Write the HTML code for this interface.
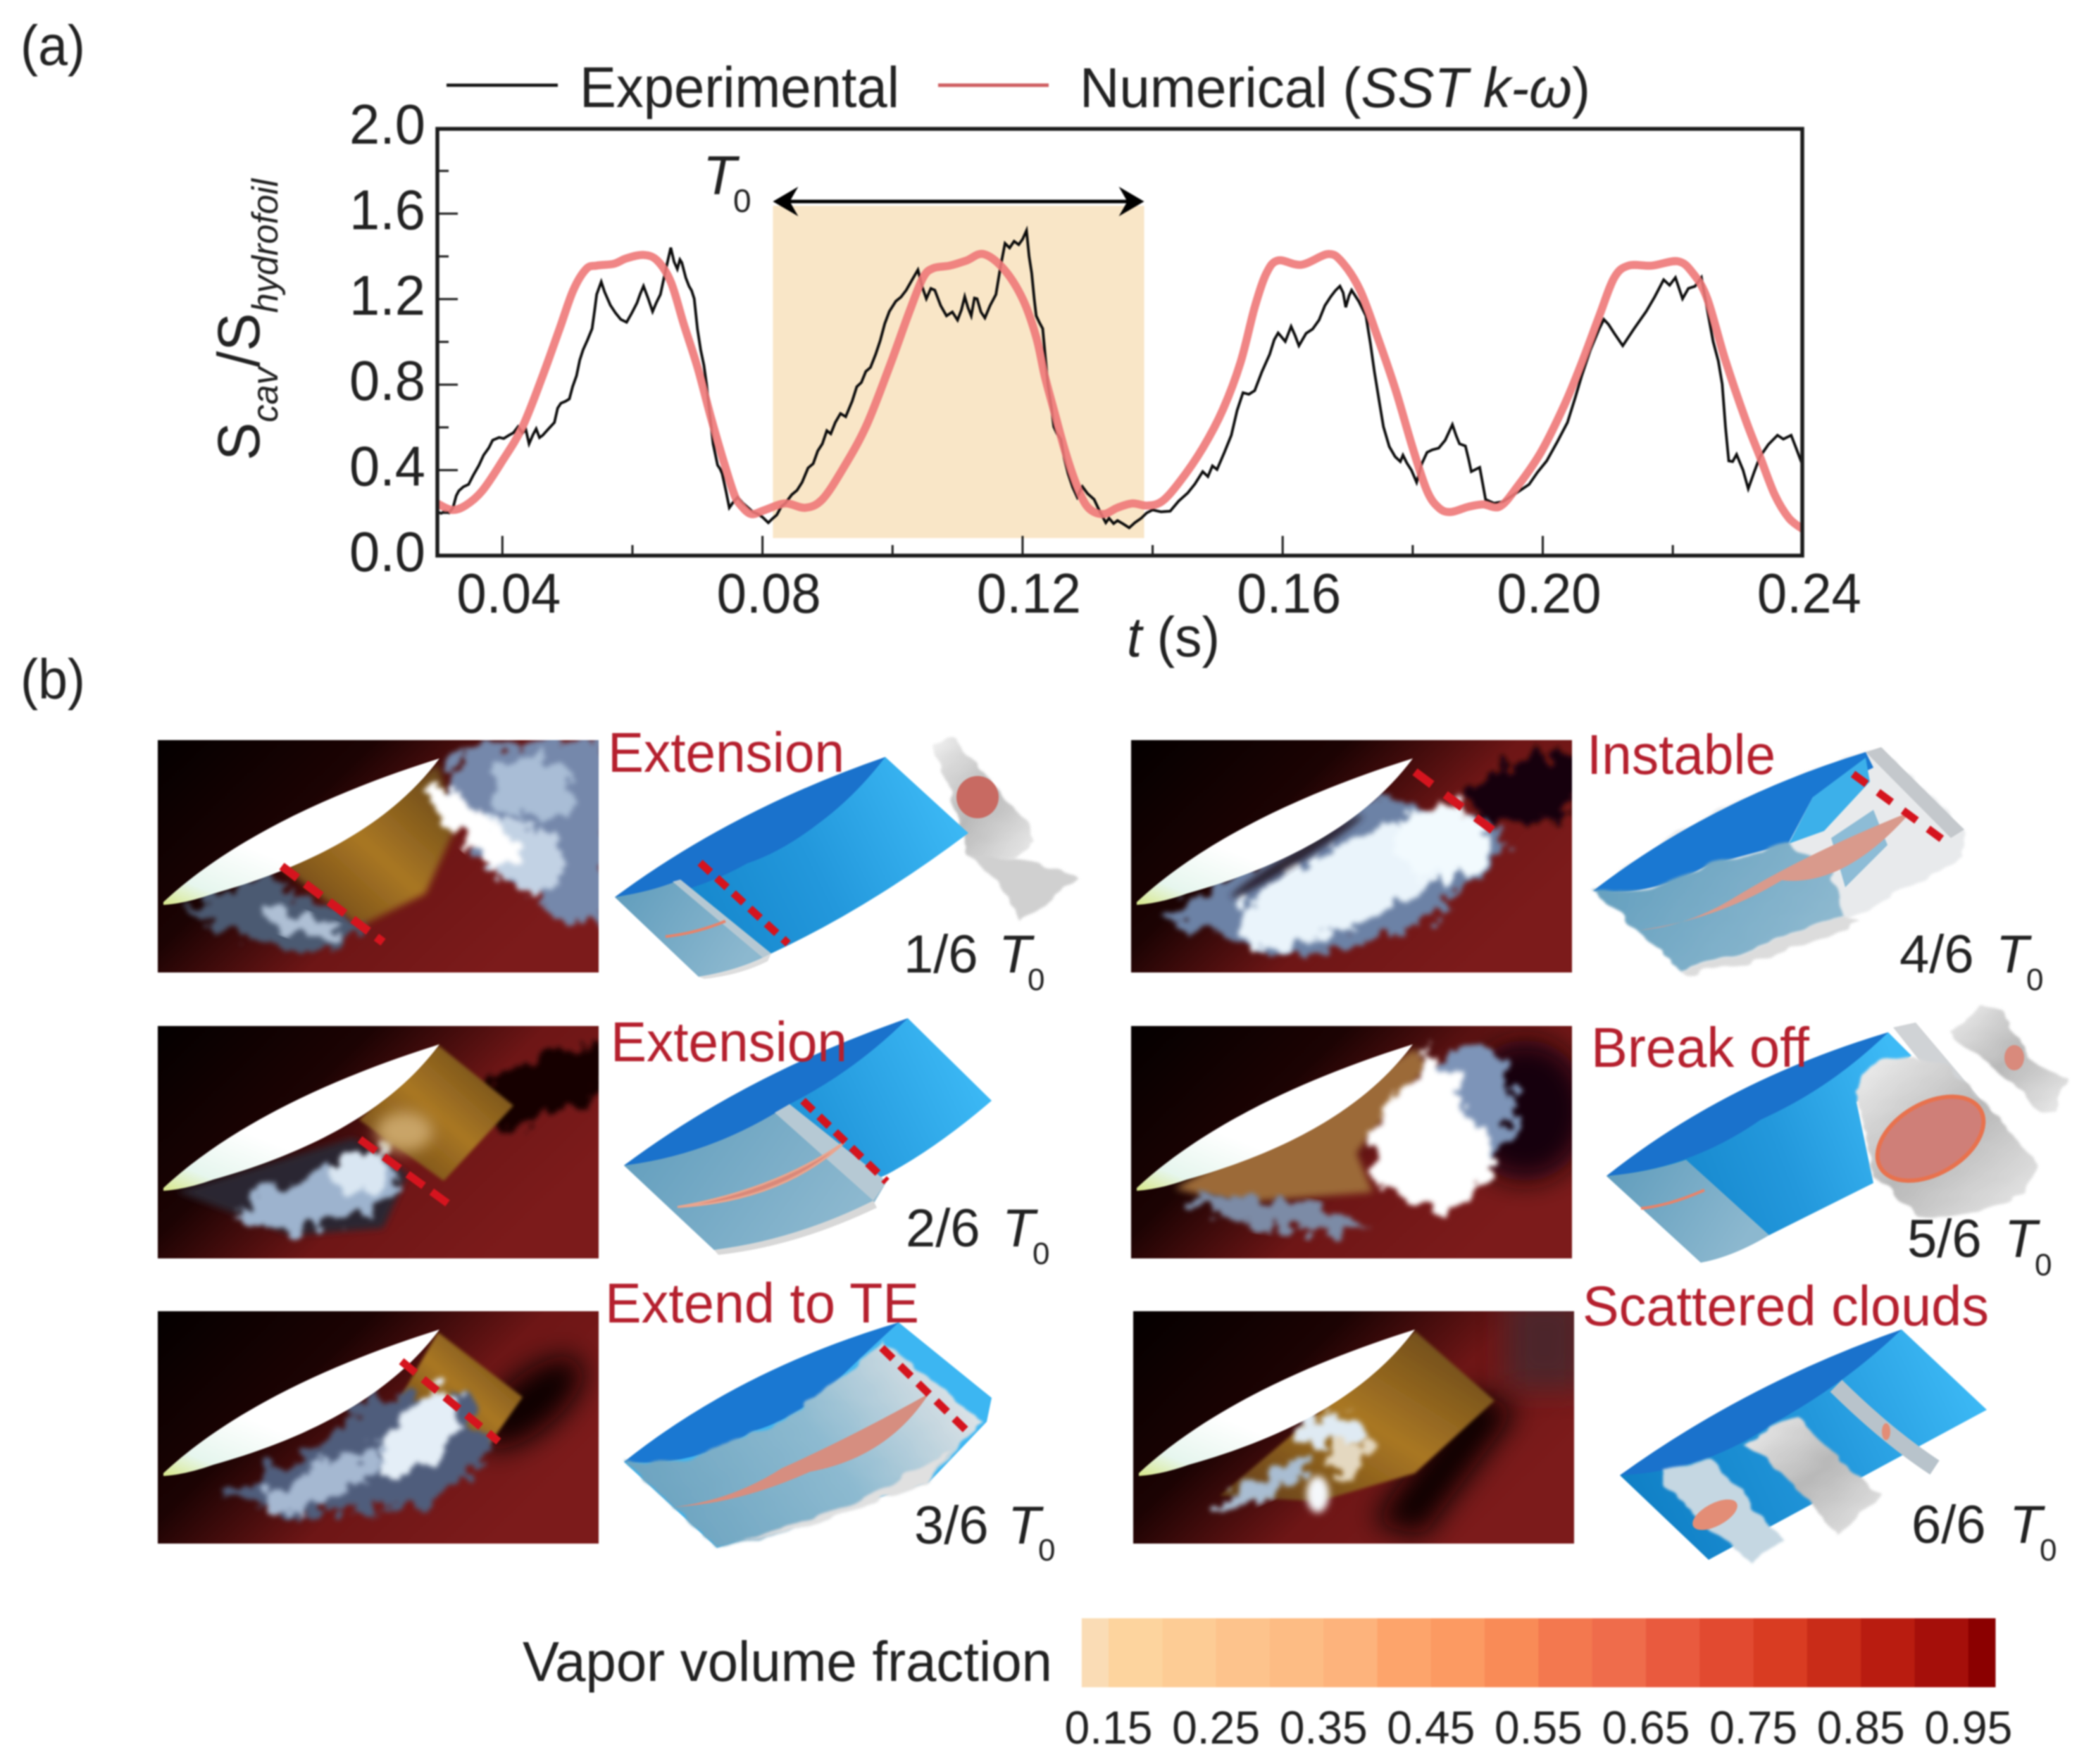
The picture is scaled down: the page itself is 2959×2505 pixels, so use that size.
<!DOCTYPE html>
<html lang="en">
<head>
<meta charset="utf-8">
<title>Cavity area oscillation and vapor volume fraction</title>
<style>
html,body{margin:0;padding:0;background:#fff;width:2959px;height:2505px;overflow:hidden}
svg{display:block;filter:blur(1px)}
text{font-family:"Liberation Sans",sans-serif;fill:#222}
.red{fill:#b5202e;font-size:80px}
.it{font-style:italic}
</style>
</head>
<body>
<svg id="fig" xmlns="http://www.w3.org/2000/svg" width="2959" height="2505" viewBox="0 0 2959 2505">
<defs>
  <filter id="b2" x="-30%" y="-30%" width="160%" height="160%"><feGaussianBlur stdDeviation="2"/></filter>
  <filter id="b5" x="-50%" y="-50%" width="200%" height="200%"><feGaussianBlur stdDeviation="5"/></filter>
  <filter id="b10" x="-60%" y="-60%" width="220%" height="220%"><feGaussianBlur stdDeviation="10"/></filter>
  <filter id="b20" x="-80%" y="-80%" width="260%" height="260%"><feGaussianBlur stdDeviation="20"/></filter>
  <filter id="cloud" x="-30%" y="-30%" width="160%" height="160%">
    <feTurbulence type="fractalNoise" baseFrequency="0.035" numOctaves="4" seed="7" result="n"/>
    <feDisplacementMap in="SourceGraphic" in2="n" scale="55" xChannelSelector="R" yChannelSelector="G"/>
    <feGaussianBlur stdDeviation="3.5"/>
  </filter>
  <filter id="wavy" x="-15%" y="-15%" width="130%" height="130%">
    <feTurbulence type="fractalNoise" baseFrequency="0.022 0.05" numOctaves="2" seed="3" result="n"/>
    <feDisplacementMap in="SourceGraphic" in2="n" scale="16" xChannelSelector="R" yChannelSelector="G"/>
    <feGaussianBlur stdDeviation="1.5"/>
  </filter>
  <clipPath id="pc"><rect x="0" y="0" width="626" height="330"/></clipPath>
  <clipPath id="plot-clip"><rect x="621" y="182" width="1938" height="607"/></clipPath>
  <linearGradient id="pbg" x1="0" y1="0" x2="1" y2="0.55">
    <stop offset="0" stop-color="#040000"/><stop offset="0.38" stop-color="#1c0303"/>
    <stop offset="0.68" stop-color="#6e1616"/><stop offset="1" stop-color="#7c1b1b"/>
  </linearGradient>
  <linearGradient id="brown" x1="0" y1="1" x2="1" y2="0">
    <stop offset="0" stop-color="#5e3a18"/><stop offset="0.5" stop-color="#a97722"/><stop offset="1" stop-color="#5f401a"/>
  </linearGradient>
  <linearGradient id="lensfill" x1="0" y1="1" x2="0.3" y2="0.6">
    <stop offset="0" stop-color="#d8e88a"/><stop offset="0.35" stop-color="#e6f6ee"/><stop offset="1" stop-color="#ffffff"/>
  </linearGradient>
  <linearGradient id="foil" x1="0" y1="0.6" x2="1" y2="0.3">
    <stop offset="0" stop-color="#1080c6"/><stop offset="0.55" stop-color="#2398dc"/><stop offset="1" stop-color="#3dbaf6"/>
  </linearGradient>
  <linearGradient id="cav" x1="0" y1="0" x2="1" y2="0.4">
    <stop offset="0" stop-color="#5f9cbc"/><stop offset="1" stop-color="#8cb8cf"/>
  </linearGradient>
  <linearGradient id="mist" x1="0" y1="0.7" x2="1" y2="0.3">
    <stop offset="0" stop-color="#6aa2bf"/><stop offset="0.55" stop-color="#8dbad0"/><stop offset="1" stop-color="#e3e6e8"/>
  </linearGradient>
  <linearGradient id="gray3d" x1="0" y1="0" x2="1" y2="1">
    <stop offset="0" stop-color="#f0f0f0"/><stop offset="0.5" stop-color="#b8b8b8"/><stop offset="1" stop-color="#ececec"/>
  </linearGradient>
  <path id="lens" d="M8,230 C110,135 260,70 400,26 C345,100 250,170 79,218 Q40,232 8,234 Z" fill="url(#lensfill)"/>
</defs>

<text x="29" y="92" font-size="80" fill="#333" textLength="92" lengthAdjust="spacingAndGlyphs">(a)</text>
<text x="29" y="992" font-size="80" fill="#333" textLength="92" lengthAdjust="spacingAndGlyphs">(b)</text>

<!-- Legend -->
<g>
  <line x1="634" y1="121" x2="792" y2="121" stroke="#111" stroke-width="4.5"/>
  <text x="823" y="152" font-size="82" textLength="454" lengthAdjust="spacingAndGlyphs">Experimental</text>
  <line x1="1332" y1="121" x2="1489" y2="121" stroke="#cf5f62" stroke-width="5"/>
  <text x="1533" y="152" font-size="80" textLength="725" lengthAdjust="spacingAndGlyphs">Numerical (<tspan class="it">SST k-ω</tspan>)</text>
</g>

<!-- Chart -->
<g id="chart"></g>

<text transform="translate(368,654) rotate(-90)" font-size="84" textLength="400" lengthAdjust="spacingAndGlyphs">S<tspan class="it" font-size="52" dy="26">cav</tspan><tspan dy="-26">/S</tspan><tspan class="it" font-size="52" dy="26">hydrofoil</tspan></text>
<text x="1600" y="932" font-size="80" textLength="132" lengthAdjust="spacingAndGlyphs"><tspan class="it">t</tspan> (s)</text>
<g>
  <text x="998" y="276" font-size="78" class="it">T</text>
  <text x="1041" y="301" font-size="46">0</text>
</g>

<!-- PHOTOS -->
<g transform="translate(224,1051)" clip-path="url(#pc)">
  <rect width="626" height="330" fill="url(#pbg)"/>
  <path d="M174,178 L398,35 L424,122 L380,218 L286,265 Z" fill="url(#brown)" filter="url(#b5)"/>
  <path d="M40,240 L150,190 L290,270 L240,300 L110,280 Z" fill="#4c5a72" filter="url(#cloud)"/>
  <ellipse cx="200" cy="262" rx="60" ry="15" transform="rotate(20 200 262)" fill="#aebfd4" filter="url(#cloud)"/>
  <path d="M430,15 L640,-10 L640,270 L570,250 L470,170 L405,80 Z" fill="#7488ab" filter="url(#cloud)"/>
  <ellipse cx="530" cy="70" rx="60" ry="45" fill="#a9bdd6" filter="url(#cloud)"/>
  <ellipse cx="520" cy="165" rx="65" ry="45" transform="rotate(45 520 165)" fill="#c2d2e4" filter="url(#cloud)"/>
  <ellipse cx="448" cy="122" rx="82" ry="24" transform="rotate(42 448 122)" fill="#fff" filter="url(#cloud)"/>
  <use href="#lens"/>
  <line x1="176" y1="179" x2="320" y2="287" stroke="#d5141e" stroke-width="12" stroke-dasharray="28 14"/>
</g>
<g transform="translate(224,1457)" clip-path="url(#pc)">
  <rect width="626" height="330" fill="url(#pbg)"/>
  <ellipse cx="550" cy="85" rx="100" ry="42" transform="rotate(-25 550 85)" fill="#140505" filter="url(#cloud)"/>
  <path d="M398,27 L505,113 L406,220 L286,133 Z" fill="url(#brown)" filter="url(#b2)"/>
  <path d="M27,235 L277,159 L355,210 L320,287 L190,297 Z" fill="#2c2532" filter="url(#b5)"/>
  <ellipse cx="235" cy="245" rx="120" ry="38" transform="rotate(-12 235 245)" fill="#9db3ce" filter="url(#cloud)"/>
  <ellipse cx="290" cy="205" rx="48" ry="30" transform="rotate(-30 290 205)" fill="#d9e6f2" filter="url(#cloud)"/>
  <ellipse cx="350" cy="150" rx="40" ry="28" fill="#c9a468" filter="url(#b10)"/>
  <use href="#lens"/>
  <line x1="287" y1="161" x2="416" y2="255" stroke="#d5141e" stroke-width="11" stroke-dasharray="28 14"/>
</g>
<g transform="translate(224,1862)" clip-path="url(#pc)">
  <rect width="626" height="330" fill="url(#pbg)"/>
  <ellipse cx="530" cy="130" rx="90" ry="40" transform="rotate(-40 530 130)" fill="#100303" filter="url(#b20)"/>
  <path d="M398,30 L518,122 L470,190 L340,130 Z" fill="url(#brown)" filter="url(#b2)"/>
  <path d="M88,260 L237,185 L300,120 L447,120 L470,210 L380,280 L200,290 Z" fill="#4f5d7c" filter="url(#cloud)"/>
  <ellipse cx="375" cy="170" rx="80" ry="38" transform="rotate(-45 375 170)" fill="#e4eef7" filter="url(#cloud)"/>
  <ellipse cx="240" cy="240" rx="100" ry="26" transform="rotate(-24 240 240)" fill="#a5b8d1" filter="url(#cloud)"/>
  <use href="#lens"/>
  <line x1="346" y1="71" x2="484" y2="185" stroke="#d5141e" stroke-width="11" stroke-dasharray="26 14"/>
</g>
<g transform="translate(1606,1051)" clip-path="url(#pc)">
  <rect width="626" height="330" fill="url(#pbg)"/>
  <ellipse cx="570" cy="70" rx="95" ry="45" transform="rotate(-20 570 70)" fill="#14060a" filter="url(#cloud)"/>
  <path d="M44,249 L352,80 L501,116 L536,147 L413,264 L237,310 L88,268 Z" fill="#6c82a6" filter="url(#cloud)"/>
  <ellipse cx="310" cy="205" rx="170" ry="60" transform="rotate(-24 310 205)" fill="#eaf4fb" filter="url(#cloud)"/>
  <ellipse cx="440" cy="145" rx="65" ry="55" fill="#f2fafe" filter="url(#cloud)"/>
  <ellipse cx="235" cy="165" rx="110" ry="9" transform="rotate(-32 235 165)" fill="#2a2230" filter="url(#b5)"/>
  <use href="#lens"/>
  <line x1="403" y1="45" x2="532" y2="142" stroke="#d5141e" stroke-width="12" stroke-dasharray="30 24"/>
</g>
<g transform="translate(1606,1457)" clip-path="url(#pc)">
  <rect width="626" height="330" fill="url(#pbg)"/>
  <ellipse cx="560" cy="120" rx="90" ry="100" fill="#14060a" filter="url(#b20)"/>
  <path d="M403,32 L422,57 L320,180 L343,236 L150,251 L62,231 Z" fill="#9c6a38" filter="url(#b5)"/>
  <ellipse cx="205" cy="268" rx="130" ry="20" transform="rotate(10 205 268)" fill="#7c8ba6" filter="url(#cloud)"/>
  <ellipse cx="480" cy="110" rx="65" ry="85" fill="#7d94b8" filter="url(#cloud)"/>
  <path d="M430,35 L470,100 L520,190 L470,260 L390,250 L340,210 L350,130 Z" fill="#fff" filter="url(#cloud)"/>
  <use href="#lens"/>
</g>
<g transform="translate(1609,1862)" clip-path="url(#pc)">
  <rect width="626" height="330" fill="url(#pbg)"/>
  <rect x="530" y="-20" width="110" height="130" fill="#3f2a30" opacity="0.75" filter="url(#b20)"/>
  <path d="M480,110 L545,140 L410,320 L340,300 Z" fill="#100303" filter="url(#b20)"/>
  <path d="M400,28 L513,127 L400,230 L263,270 L123,262 Z" fill="url(#brown)" filter="url(#b2)"/>
  <ellipse cx="280" cy="170" rx="48" ry="26" fill="#dfeaf3" filter="url(#cloud)"/>
  <ellipse cx="190" cy="245" rx="80" ry="16" transform="rotate(-24 190 245)" fill="#a9bdd2" filter="url(#cloud)"/>
  <ellipse cx="262" cy="260" rx="16" ry="26" fill="#f5f8fb" filter="url(#b5)"/>
  <ellipse cx="310" cy="205" rx="30" ry="28" fill="#e4d8c0" filter="url(#cloud)"/>
  <use href="#lens"/>
</g>

<!-- 3D FOILS -->
<g>
  <g filter="url(#wavy)">
  <path d="M1324,1056 Q1340,1045 1358,1053 L1440,1147 Q1470,1178 1468,1195 L1440,1219 L1375,1214 Q1355,1130 1324,1056 Z" fill="url(#gray3d)"/>
  <path d="M1375,1214 Q1460,1215 1530,1249 Q1490,1280 1448,1308 Q1430,1260 1375,1214 Z" fill="#d0d0d0"/>
  </g>
  <circle cx="1388" cy="1132" r="30" fill="#c86a62"/>
  <path d="M873,1274 Q1040,1150 1257,1075 L1375,1183 Q1233,1290 1095,1354 L992,1387 Z" fill="url(#foil)"/>
  <path d="M873,1274 Q1040,1150 1257,1075 Q1215,1130 1164,1168 Q1110,1210 1061,1226 Q1010,1255 949,1270 Q905,1285 873,1274 Z" fill="#1a72cc"/>
  <path d="M873,1274 Q930,1265 966,1249 L1095,1354 Q1050,1378 992,1387 Z" fill="url(#cav)"/>
  <path d="M966,1249 L1095,1354 L1083,1360 L955,1252 Z" fill="#b5c8d3"/>
  <path d="M992,1387 Q1050,1378 1095,1354 L1090,1365 Q1050,1385 1000,1390 Z" fill="#ddd"/>
  <path d="M945,1330 Q990,1325 1030,1308" fill="none" stroke="#e8836a" stroke-width="4"/>
  <line x1="994" y1="1225" x2="1119" y2="1340" stroke="#d5141e" stroke-width="11" stroke-dasharray="20 12"/>
</g>
<g>
  <path d="M886,1655 Q1060,1525 1289,1446 L1408,1563 Q1330,1630 1259,1668 L1014,1775 Z" fill="url(#foil)"/>
  <path d="M886,1655 Q1060,1525 1289,1446 Q1215,1520 1121,1568 Q1000,1650 886,1655 Z" fill="#1a72cc"/>
  <path d="M886,1655 Q1010,1640 1121,1568 L1259,1678 L1240,1710 Q1130,1760 1014,1775 Z" fill="url(#cav)"/>
  <path d="M1121,1568 L1259,1678 L1240,1705 L1100,1580 Z" fill="#b6c9d4"/>
  <path d="M1240,1705 Q1130,1760 1014,1775 L1020,1782 Q1130,1770 1245,1715 Z" fill="#d8d8d8"/>
  <path d="M962,1714 Q1100,1690 1199,1622 Q1110,1705 962,1714 Z" fill="#d9897a" stroke="#eaa58e" stroke-width="3"/>
  <line x1="1140" y1="1563" x2="1259" y2="1678" stroke="#d5141e" stroke-width="11" stroke-dasharray="20 12"/>
</g>
<g>
  <path d="M886,2076 Q1050,1945 1276,1878 L1408,1985 L1401,2019 L1319,2105 L1018,2198 Z" fill="#3cb6f2"/>
  <path d="M886,2076 Q1050,1945 1276,1878 Q1230,1920 1190,1959 Q1130,2015 1070,2032 Q980,2085 886,2076 Z" fill="#1a78d2"/>
  <g filter="url(#wavy)">
    <path d="M886,2076 Q980,2085 1070,2032 Q1130,2015 1190,1959 L1255,1903 L1392,2019 L1319,2105 L1147,2170 L1018,2198 Z" fill="url(#mist)"/>
    <path d="M1147,2170 L1319,2105 L1350,2060 L1290,2095 Q1200,2150 1040,2190 Z" fill="#e0e0e0"/>
  </g>
  <path d="M958,2140 Q1040,2130 1110,2085 Q1210,2040 1319,1979 Q1260,2070 1150,2090 Q1050,2135 958,2140 Z" fill="#d68e80"/>
  <line x1="1252" y1="1914" x2="1378" y2="2037" stroke="#d5141e" stroke-width="11" stroke-dasharray="22 14"/>
</g>
<g>
  <path d="M2262,1265 Q2430,1135 2649,1068 L2671,1061 L2789,1178 L2785,1219 L2609,1313 L2389,1379 Z" fill="#e8eaec" filter="url(#wavy)"/>
  <path d="M2649,1068 L2671,1061 L2789,1178 L2770,1190 Z" fill="#c4c8cc"/>
  <path d="M2262,1265 Q2430,1135 2649,1068 L2660,1090 L2574,1132 L2539,1198 L2424,1229 Q2340,1275 2262,1265 Z" fill="#1a78d2"/>
  <path d="M2540,1198 L2574,1132 L2649,1076 L2655,1110 L2590,1180 Z" fill="#3cb0ea"/>
  <path d="M2262,1265 Q2340,1275 2424,1229 L2539,1198 L2600,1235 L2620,1300 L2500,1345 L2389,1379 Z" fill="url(#cav)" filter="url(#wavy)"/>
  <path d="M2600,1190 L2660,1150 L2680,1200 L2620,1260 Z" fill="#8dbcd6"/>
  <path d="M2328,1321 Q2400,1315 2470,1270 Q2570,1210 2714,1152 Q2620,1260 2530,1250 Q2440,1305 2328,1321 Z" fill="#d99a8c"/>
  <path d="M2389,1379 L2500,1345 L2620,1300 L2640,1310 L2480,1370 L2395,1384 Z" fill="#dcdcdc" filter="url(#wavy)"/>
  <line x1="2631" y1="1099" x2="2758" y2="1192" stroke="#d5141e" stroke-width="11" stroke-dasharray="24 20"/>
</g>
<g>
  <path d="M2767,1469 L2811,1428 L2846,1438 L2882,1504 L2934,1535 L2917,1581 L2899,1578 L2838,1520 Z" fill="url(#gray3d)" filter="url(#wavy)"/>
  <ellipse cx="2860" cy="1502" rx="14" ry="18" fill="#d98a7c"/>
  <path d="M2281,1670 Q2450,1535 2681,1466 L2714,1499 L2636,1565 L2660,1680 L2512,1754 L2415,1793 Z" fill="url(#foil)"/>
  <path d="M2281,1670 Q2450,1535 2681,1466 Q2600,1545 2500,1590 Q2400,1660 2281,1670 Z" fill="#1a72cc"/>
  <path d="M2281,1670 Q2340,1665 2394,1647 L2512,1754 Q2460,1785 2415,1793 Z" fill="url(#cav)"/>
  <path d="M2688,1459 L2720,1452 L2846,1601 L2800,1600 Z" fill="#d0d3d6"/>
  <path d="M2635,1550 Q2650,1510 2671,1504 Q2730,1495 2767,1515 L2829,1581 L2890,1647 Q2895,1680 2864,1698 Q2790,1735 2723,1729 L2662,1668 Z" fill="url(#gray3d)" filter="url(#wavy)"/>
  <ellipse cx="2741" cy="1617" rx="82" ry="50" transform="rotate(-30 2741 1617)" fill="#cf7f78" stroke="#e8724e" stroke-width="6"/>
  <path d="M2330,1716 Q2370,1712 2420,1690" fill="none" stroke="#e8836a" stroke-width="4"/>
</g>
<g>
  <path d="M2300,2095 Q2480,1965 2700,1888 L2821,2002 L2426,2215 Z" fill="url(#foil)"/>
  <path d="M2300,2095 Q2480,1965 2700,1888 Q2620,1965 2520,2020 Q2420,2090 2300,2095 Z" fill="#1a72cc"/>
  <path d="M2356,2088 L2430,2073 L2533,2187 L2486,2217 L2430,2174 L2365,2110 Z" fill="#c5d7e2" filter="url(#wavy)"/>
  <ellipse cx="2435" cy="2151" rx="35" ry="16" transform="rotate(-28 2435 2151)" fill="#e38d76"/>
  <path d="M2477,2050 L2551,2011 L2630,2090 L2672,2123 L2607,2181 L2561,2123 L2533,2097 Z" fill="url(#gray3d)" filter="url(#wavy)"/>
  <path d="M2607,1968 Q2680,2040 2747,2084" fill="none" stroke="#b8c3cb" stroke-width="24"/>
  <ellipse cx="2678" cy="2033" rx="6" ry="12" fill="#e38d76"/>
</g>

<!-- Phase labels -->
<text x="863" y="1096" class="red" textLength="336" lengthAdjust="spacingAndGlyphs">Extension</text>
<text x="867" y="1507" class="red" textLength="336" lengthAdjust="spacingAndGlyphs">Extension</text>
<text x="859" y="1878" class="red" textLength="446" lengthAdjust="spacingAndGlyphs">Extend to TE</text>
<text x="2253" y="1099" class="red" textLength="268" lengthAdjust="spacingAndGlyphs">Instable</text>
<text x="2259" y="1515" class="red" textLength="310" lengthAdjust="spacingAndGlyphs">Break off</text>
<text x="2247" y="1882" class="red" textLength="577" lengthAdjust="spacingAndGlyphs">Scattered clouds</text>

<!-- Time labels -->
<g font-size="76">
  <text x="1283" y="1381">1/6</text><text x="1418" y="1381" class="it">T</text><text x="1459" y="1406" font-size="44">0</text>
  <text x="1286" y="1770">2/6</text><text x="1423" y="1770" class="it">T</text><text x="1466" y="1795" font-size="44">0</text>
  <text x="1298" y="2192">3/6</text><text x="1431" y="2192" class="it">T</text><text x="1474" y="2216" font-size="44">0</text>
  <text x="2697" y="1381">4/6</text><text x="2834" y="1381" class="it">T</text><text x="2877" y="1406" font-size="44">0</text>
  <text x="2708" y="1785">5/6</text><text x="2846" y="1785" class="it">T</text><text x="2889" y="1811" font-size="44">0</text>
  <text x="2714" y="2191">6/6</text><text x="2853" y="2191" class="it">T</text><text x="2896" y="2216" font-size="44">0</text>
</g>

<!-- Colorbar -->
<text x="742" y="2387" font-size="80" textLength="752" lengthAdjust="spacingAndGlyphs">Vapor volume fraction</text>
<g id="colorbar"></g>
</svg>

<script>
// Chart data
const expTimes = [
0.0300,0.0306,0.0312,0.0318,0.0324,0.0329,0.0333,0.0340,0.0348,0.0355,
0.0364,0.0371,0.0379,0.0385,0.0395,0.0402,0.0410,0.0417,0.0424,0.0431,
0.0436,0.0441,0.0447,0.0452,0.0457,0.0462,0.0470,0.0480,0.0485,0.0490,
0.0497,0.0503,0.0508,0.0514,0.0519,0.0524,0.0531,0.0538,0.0542,0.0545,
0.0552,0.0557,0.0566,0.0574,0.0582,0.0591,0.0599,0.0607,0.0612,0.0617,
0.0624,0.0631,0.0637,0.0643,0.0650,0.0659,0.0664,0.0669,0.0673,0.0676,
0.0682,0.0687,0.0691,0.0695,0.0700,0.0705,0.0710,0.0714,0.0719,0.0724,
0.0731,0.0735,0.0738,0.0744,0.0749,0.0755,0.0762,0.0770,0.0778,0.0785,
0.0793,0.0800,0.0809,0.0815,0.0822,0.0829,0.0835,0.0845,0.0853,0.0861,
0.0870,0.0878,0.0885,0.0892,0.0899,0.0905,0.0912,0.0920,0.0928,0.0938,
0.0945,0.0952,0.0959,0.0966,0.0974,0.0981,0.0988,0.0995,0.1005,0.1013,
0.1021,0.1030,0.1039,0.1046,0.1052,0.1059,0.1065,0.1074,0.1083,0.1092,
0.1100,0.1106,0.1111,0.1116,0.1121,0.1126,0.1130,0.1136,0.1142,0.1150,
0.1159,0.1166,0.1173,0.1180,0.1187,0.1194,0.1200,0.1206,0.1210,0.1214,
0.1218,0.1221,0.1226,0.1231,0.1235,0.1239,0.1244,0.1248,0.1253,0.1259,
0.1264,0.1270,0.1277,0.1284,0.1288,0.1292,0.1300,0.1310,0.1319,0.1328,
0.1333,0.1340,0.1346,0.1355,0.1364,0.1373,0.1382,0.1391,0.1400,0.1413,
0.1427,0.1440,0.1454,0.1465,0.1477,0.1485,0.1492,0.1499,0.1510,0.1521,
0.1530,0.1539,0.1548,0.1557,0.1568,0.1580,0.1587,0.1593,0.1604,0.1613,
0.1619,0.1625,0.1636,0.1646,0.1656,0.1665,0.1674,0.1681,0.1688,0.1693,
0.1697,0.1702,0.1706,0.1717,0.1728,0.1735,0.1741,0.1748,0.1755,0.1764,
0.1773,0.1781,0.1785,0.1791,0.1798,0.1806,0.1814,0.1822,0.1830,0.1840,
0.1850,0.1861,0.1867,0.1872,0.1881,0.1886,0.1890,0.1903,0.1908,0.1912,
0.1925,0.1939,0.1958,0.1979,0.1992,0.2006,0.2022,0.2038,0.2050,0.2060,
0.2073,0.2087,0.2094,0.2101,0.2110,0.2123,0.2140,0.2159,0.2172,0.2186,
0.2195,0.2204,0.2215,0.2224,0.2234,0.2244,0.2253,0.2262,0.2270,0.2276,
0.2281,0.2286,0.2292,0.2298,0.2308,0.2316,0.2325,0.2334,0.2347,0.2361,
0.2370,0.2382,0.2390,0.2397,0.2400];
const expValues = [
0.204,0.198,0.208,0.200,0.224,0.280,0.303,0.322,0.333,0.375,
0.423,0.470,0.503,0.540,0.553,0.548,0.563,0.575,0.603,0.573,
0.590,0.523,0.565,0.593,0.552,0.563,0.590,0.623,0.690,0.713,
0.722,0.733,0.790,0.842,0.915,0.962,1.010,1.062,1.150,1.222,
1.281,1.235,1.172,1.135,1.105,1.092,1.135,1.182,1.225,1.261,
1.205,1.142,1.185,1.222,1.320,1.441,1.375,1.341,1.385,1.371,
1.300,1.261,1.240,1.202,1.060,0.962,0.890,0.802,0.660,0.523,
0.423,0.405,0.383,0.300,0.224,0.250,0.273,0.245,0.224,0.205,
0.194,0.180,0.154,0.172,0.190,0.230,0.244,0.285,0.305,0.343,
0.410,0.430,0.490,0.523,0.585,0.570,0.623,0.665,0.650,0.723,
0.790,0.810,0.862,0.880,0.942,1.005,1.085,1.142,1.190,1.210,
1.242,1.290,1.337,1.255,1.202,1.250,1.242,1.170,1.122,1.140,
1.102,1.150,1.212,1.160,1.122,1.205,1.202,1.140,1.112,1.170,
1.222,1.350,1.461,1.440,1.471,1.455,1.480,1.521,1.400,1.321,
1.200,1.122,1.090,1.062,0.930,0.802,0.700,0.603,0.570,0.543,
0.455,0.383,0.320,0.273,0.300,0.323,0.290,0.263,0.205,0.154,
0.175,0.150,0.164,0.148,0.130,0.155,0.174,0.200,0.214,0.205,
0.208,0.255,0.293,0.335,0.393,0.370,0.420,0.403,0.480,0.563,
0.680,0.762,0.755,0.772,0.860,0.942,1.010,1.042,1.002,1.072,
1.030,0.982,1.040,1.060,1.102,1.170,1.212,1.240,1.261,1.230,
1.162,1.215,1.242,1.190,1.122,0.990,0.862,0.730,0.603,0.510,
0.463,0.440,0.470,0.433,0.400,0.343,0.430,0.483,0.495,0.503,
0.540,0.613,0.560,0.523,0.513,0.450,0.393,0.413,0.330,0.263,
0.245,0.253,0.290,0.333,0.390,0.443,0.530,0.623,0.740,0.842,
0.960,1.062,1.105,1.082,1.040,0.982,1.060,1.142,1.210,1.291,
1.265,1.301,1.202,1.250,1.260,1.301,1.150,1.002,0.910,0.802,
0.600,0.443,0.440,0.473,0.400,0.313,0.390,0.463,0.520,0.563,
0.545,0.563,0.500,0.443,0.450];
const numTimes = [0.0300,0.0322,0.0343,0.0369,0.0400,0.0431,0.0462,0.0488,0.0509,0.0529,0.0545,0.0571,0.0591,0.0617,0.0638,0.0659,0.0679,0.0700,0.0721,0.0742,0.0757,0.0767,0.0783,0.0804,0.0835,0.0866,0.0892,0.0923,0.0959,0.0995,0.1026,0.1047,0.1063,0.1088,0.1114,0.1140,0.1171,0.1200,0.1221,0.1234,0.1248,0.1266,0.1284,0.1301,0.1324,0.1346,0.1369,0.1391,0.1414,0.1441,0.1477,0.1508,0.1535,0.1557,0.1575,0.1593,0.1629,0.1670,0.1692,0.1719,0.1746,0.1773,0.1800,0.1822,0.1840,0.1858,0.1885,0.1908,0.1934,0.1961,0.1997,0.2033,0.2060,0.2087,0.2110,0.2132,0.2168,0.2208,0.2231,0.2253,0.2280,0.2311,0.2334,0.2357,0.2379,0.2400];
const numValues = [0.244,0.214,0.234,0.303,0.443,0.603,0.842,1.062,1.242,1.341,1.357,1.365,1.391,1.407,1.381,1.281,1.082,0.882,0.643,0.423,0.283,0.234,0.194,0.214,0.244,0.224,0.263,0.403,0.603,0.882,1.142,1.301,1.345,1.357,1.381,1.411,1.341,1.202,1.022,0.842,0.683,0.483,0.323,0.224,0.194,0.224,0.244,0.234,0.253,0.343,0.503,0.683,0.902,1.162,1.321,1.381,1.361,1.411,1.371,1.242,1.022,0.782,0.503,0.303,0.224,0.204,0.228,0.240,0.230,0.323,0.483,0.703,0.902,1.122,1.301,1.357,1.357,1.377,1.321,1.202,0.922,0.643,0.463,0.283,0.174,0.124];
const xMajorTicks = [0.04,0.08,0.12,0.16,0.20,0.24];
const xMajorLabels = ["0.04","0.08","0.12","0.16","0.20","0.24"];
const xMinorTicks = [0.06,0.10,0.14,0.18,0.22];
const yMajorTicks = [0,0.4,0.8,1.2,1.6,2.0];
const yMajorLabels = ["0.0","0.4","0.8","1.2","1.6","2.0"];
const yMinorTicks = [0.2,0.6,1.0,1.4,1.8];
const periodRange = [0.0816,0.1387];
const periodBand = [0.082,1.637];
const periodArrowY = 1.657;

const cbBoundaries = [0.125,0.15,0.20,0.25,0.30,0.35,0.40,0.45,0.50,0.55,0.60,0.65,0.70,0.75,0.80,0.85,0.90,0.95,0.975];
const cbColors = ["#fadcb5","#fdd49e","#fdcc95","#fdc38c","#fdbc84","#fdb37c","#fda46b","#fc9a62","#f98b57","#f3784f","#ef6c4b","#e95a3e","#e24a30","#d93c22","#c92c18","#b91c10","#a50f0a","#8b0000"];
const cbTicks = [0.15,0.25,0.35,0.45,0.55,0.65,0.75,0.85,0.95];
const cbTickLabels = ["0.15","0.25","0.35","0.45","0.55","0.65","0.75","0.85","0.95"];

const NS = "http://www.w3.org/2000/svg";
const xScale = function (t) { return 621 + (t - 0.03) * 9232.5; };
const yScale = function (v) { return 789 - v * 303.5; };
const cbScale = function (v) { return 1574 + (v - 0.15) * 1526; };

function mk(tag, parent, attrs) {
  const el = document.createElementNS(NS, tag);
  for (const k in attrs) el.setAttribute(k, attrs[k]);
  parent.appendChild(el);
  return el;
}
function smoothPath(xs, ys) {
  let d = "M" + xs[0].toFixed(1) + "," + ys[0].toFixed(1);
  for (let i = 0; i < xs.length - 1; i++) {
    const i0 = Math.max(0, i - 1), i3 = Math.min(xs.length - 1, i + 2);
    const c1x = xs[i] + (xs[i + 1] - xs[i0]) / 6, c1y = ys[i] + (ys[i + 1] - ys[i0]) / 6;
    const c2x = xs[i + 1] - (xs[i3] - xs[i]) / 6, c2y = ys[i + 1] - (ys[i3] - ys[i]) / 6;
    d += "C" + c1x.toFixed(1) + "," + c1y.toFixed(1) + " " + c2x.toFixed(1) + "," + c2y.toFixed(1) + " " + xs[i + 1].toFixed(1) + "," + ys[i + 1].toFixed(1);
  }
  return d;
}

const chart = document.getElementById("chart");

const band = mk("rect", chart, {x: xScale(periodRange[0]), y: yScale(periodBand[1]), width: xScale(periodRange[1]) - xScale(periodRange[0]), height: yScale(periodBand[0]) - yScale(periodBand[1]), fill: "#f9e6c7"});



const plotGroup = mk("g", chart, {"clip-path": "url(#plot-clip)"});



const expPts = expTimes.map(function (t, i) { return xScale(t).toFixed(1) + "," + yScale(expValues[i]).toFixed(1); }).join(" ");
const expLine = mk("polyline", plotGroup, {points: expPts, fill: "none", stroke: "#0c0c0c", "stroke-width": 3.8, "stroke-linejoin": "miter"});



const numLine = mk("path", plotGroup, {d: smoothPath(numTimes.map(xScale), numValues.map(yScale)), fill: "none", stroke: "#ee7878", "stroke-width": 11.5, "stroke-opacity": 0.9, "stroke-linejoin": "round"});



const frame = mk("rect", chart, {x: 621, y: 183, width: 1938, height: 606, fill: "none", stroke: "#1c1c1c", "stroke-width": 5.5});



xMajorTicks.forEach(function (t, i) {
  const tick = mk("line", chart, {x1: xScale(t), x2: xScale(t), y1: 789, y2: 761, stroke: "#1c1c1c", "stroke-width": 3});
  
  
  const lab = mk("text", chart, {x: xScale(t) + 9, y: 870, "font-size": 80, "text-anchor": "middle", textLength: 148, lengthAdjust: "spacingAndGlyphs"});
  lab.textContent = xMajorLabels[i];
  
  
});
xMinorTicks.forEach(function (t) {
  const tick = mk("line", chart, {x1: xScale(t), x2: xScale(t), y1: 789, y2: 774, stroke: "#1c1c1c", "stroke-width": 3});
  
  
});
yMajorTicks.forEach(function (v, i) {
  const tick = mk("line", chart, {x1: 621, x2: 650, y1: yScale(v), y2: yScale(v), stroke: "#1c1c1c", "stroke-width": 3});
  
  
  const lab = mk("text", chart, {x: 604, y: yScale(v) + 22, "font-size": 80, "text-anchor": "end", textLength: 108, lengthAdjust: "spacingAndGlyphs"});
  lab.textContent = yMajorLabels[i];
  
  
});
yMinorTicks.forEach(function (v) {
  const tick = mk("line", chart, {x1: 621, x2: 637, y1: yScale(v), y2: yScale(v), stroke: "#1c1c1c", "stroke-width": 3});
  
  
});

const ax0 = xScale(periodRange[0]), ax1 = xScale(periodRange[1]), ay = yScale(periodArrowY);
const arrowLine = mk("line", chart, {x1: ax0 + 20, x2: ax1 - 20, y1: ay, y2: ay, stroke: "#000", "stroke-width": 5});


const headL = mk("polygon", chart, {points: ax0 + "," + ay + " " + (ax0 + 36) + "," + (ay - 21) + " " + (ax0 + 24) + "," + ay + " " + (ax0 + 36) + "," + (ay + 21), fill: "#000"});


const headR = mk("polygon", chart, {points: ax1 + "," + ay + " " + (ax1 - 36) + "," + (ay - 21) + " " + (ax1 - 24) + "," + ay + " " + (ax1 - 36) + "," + (ay + 21), fill: "#000"});



const cb = document.getElementById("colorbar");
cbColors.forEach(function (c, i) {
  const seg = mk("rect", cb, {x: cbScale(cbBoundaries[i]), y: 2298, width: cbScale(cbBoundaries[i + 1]) - cbScale(cbBoundaries[i]) + 0.5, height: 98, fill: c});
  
  
});
cbTicks.forEach(function (v, i) {
  const lab = mk("text", cb, {x: cbScale(v), y: 2476, "font-size": 66, "text-anchor": "middle", textLength: 125, lengthAdjust: "spacingAndGlyphs"});
  lab.textContent = cbTickLabels[i];
  
  
});
</script>
</body>
</html>
